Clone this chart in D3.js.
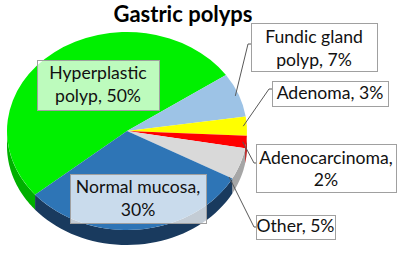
<!DOCTYPE html>
<html>
<head>
<meta charset="utf-8">
<script src="https://cdn.jsdelivr.net/npm/d3@7"></script>
<style>
  body { margin: 0; background: #fff; }
  svg { display: block; font-family: Lato, "Open Sans", sans-serif; }
</style>
</head>
<body>
<svg id="chart"></svg>
<script>
// Chart data
const categories = ["Hyperplastic polyp", "Fundic gland polyp", "Adenoma", "Adenocarcinoma", "Other", "Normal mucosa"];
const percents = [50, 7, 3, 2, 5, 30];
const labelLines = [
    ["Hyperplastic", "polyp, 50%"],
    ["Fundic gland", "polyp, 7%"],
    ["Adenoma, 3%"],
    ["Adenocarcinoma,", "2%"],
    ["Other, 5%"],
    ["Normal mucosa,", "30%"]
];
const topColors = ["#00f000", "#9dc3e6", "#ffff00", "#ff0000", "#d9d9d9", "#2e75b6"];
const sideColors = ["#00b000", "#6f8fae", "#b8b800", "#b00000", "#a6a6a6", "#193a5e"];

// Dimensions
const width = 407;
const height = 255;
const cx = 127, cy = 131, rx = 120, ry = 99, depth = 15;
const startDeg = 230;

// Label box layout
const boxes = [
    { x: 37, y: 60, w: 122, h: 50, base: 79, step: 23, fill: true },
    { x: 251, y: 23, w: 126, h: 48, base: 43, step: 23, lead: [248, 44] },
    { x: 272, y: 81, w: 116, h: 25, base: 99, step: 23, lead: [269, 89] },
    { x: 256, y: 144, w: 140, h: 48, base: 164, step: 22, lead: [254, 163] },
    { x: 256, y: 215, w: 79, h: 24, base: 232, step: 22, lead: [254, 227], off: 0.25 },
    { x: 70, y: 174, w: 136, h: 49, base: 193, step: 23, fill: true }
];

const svg = d3.select("#chart")
    .attr("width", width)
    .attr("height", height);

// Pie layout
const pie = d3.pie()
    .sort(null)
    .startAngle(startDeg * Math.PI / 180)
    .endAngle((startDeg + 360) * Math.PI / 180);

const arcs = pie(percents);

// point on the ellipse rim for a d3 angle (0 = 12 o'clock, clockwise)
const rim = (a, dy = 0) => [cx + rx * Math.sin(a), cy - ry * Math.cos(a) + dy];

// Side walls: only the front half (angles between 90 and 270 degrees)
const sideG = svg.append("g");
arcs.forEach((d, i) => {
    for (let k = 0; k < 2; k++) {
        const lo = Math.max(d.startAngle, Math.PI / 2 + 2 * Math.PI * k);
        const hi = Math.min(d.endAngle, 3 * Math.PI / 2 + 2 * Math.PI * k);
        if (hi <= lo) continue;
        const n = 40;
        const angles = d3.range(n + 1).map(j => lo + (hi - lo) * j / n);
        const pts = angles.map(a => rim(a)).concat(angles.slice().reverse().map(a => rim(a, depth)));
        sideG.append("path")
            .attr("d", d3.line()(pts) + "Z")
            .attr("fill", sideColors[i]);
    }
});

// Top face
const arc = d3.arc().innerRadius(0).outerRadius(rx);
svg.append("g")
    .attr("transform", `translate(${cx},${cy}) scale(1,${ry / rx})`)
    .selectAll("path")
    .data(arcs)
    .join("path")
    .attr("d", arc)
    .attr("fill", (d, i) => topColors[i]);

// Leader lines
arcs.forEach((d, i) => {
    const b = boxes[i];
    if (!b.lead) return;
    const mid = (d.startAngle + d.endAngle) / 2 + (b.off || 0) * (d.endAngle - d.startAngle) * 2;
    const p = rim(mid);
    const s = [cx + (p[0] - cx) * 0.97, cy + (p[1] - cy) * 0.97];
    svg.append("path")
        .attr("d", d3.line()([s, b.lead, [b.x, b.lead[1]]]))
        .attr("fill", "none")
        .attr("stroke", "#595959")
        .attr("stroke-width", 1);
});

// Label boxes
const labels = svg.selectAll("g.label")
    .data(categories)
    .join("g")
    .attr("class", "label");

labels.append("rect")
    .attr("x", (d, i) => boxes[i].x + 0.5)
    .attr("y", (d, i) => boxes[i].y + 0.5)
    .attr("width", (d, i) => boxes[i].w)
    .attr("height", (d, i) => boxes[i].h)
    .attr("fill", (d, i) => boxes[i].fill ? "rgba(255,255,255,0.74)" : "#fff")
    .attr("stroke", "#a0a0a0")
    .attr("stroke-width", 1);

labels.each(function (d, i) {
    const b = boxes[i];
    d3.select(this).selectAll("text")
        .data(labelLines[i])
        .join("text")
        .attr("x", b.x + b.w / 2)
        .attr("y", (t, j) => b.base + j * b.step)
        .attr("text-anchor", "middle")
        .attr("font-size", 17.6)
        .attr("fill", "#111")
        .text(t => t);
});

// Title
svg.append("text")
    .attr("x", 183)
    .attr("y", 22)
    .attr("text-anchor", "middle")
    .attr("font-size", 22)
    .attr("font-weight", "bold")
    .text("Gastric polyps");
</script>
</body>
</html>
